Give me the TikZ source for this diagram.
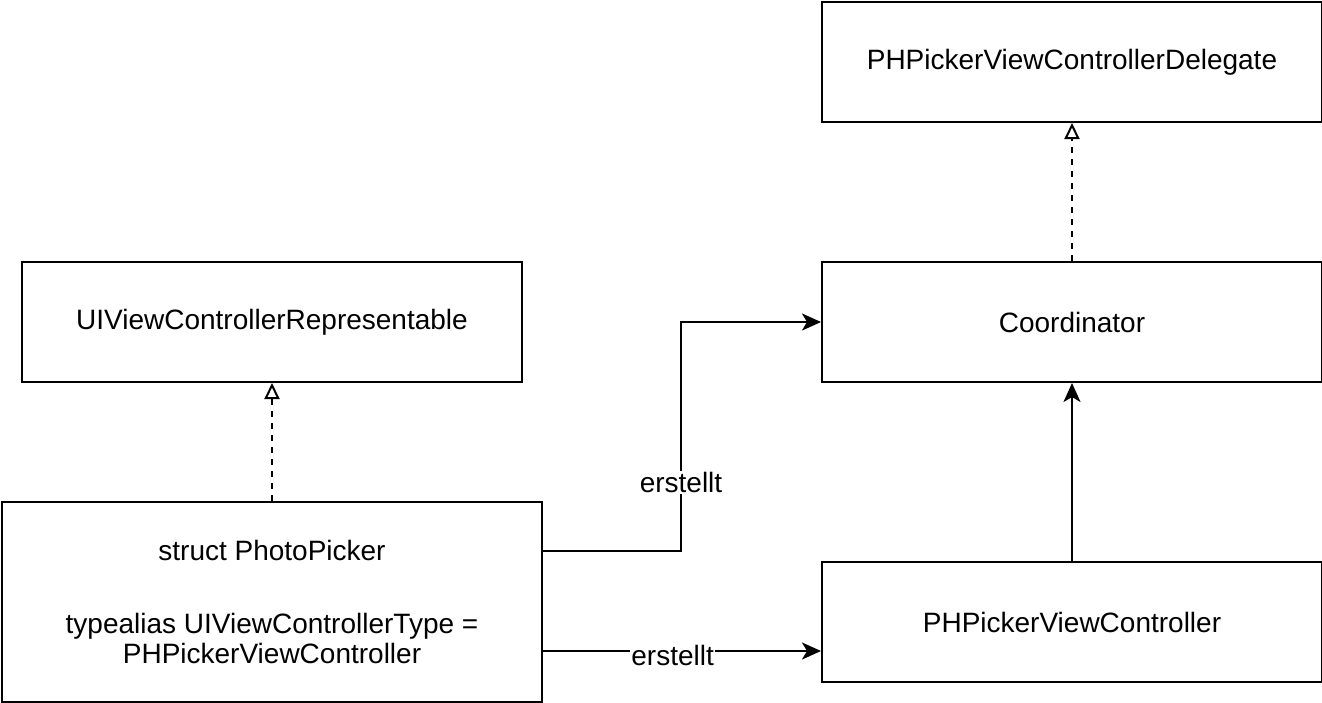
\documentclass[tikz,border=0pt]{standalone}
\usepackage{fontspec}
\setmainfont{Liberation Sans}
\usetikzlibrary{arrows.meta}
\begin{document}
\begin{tikzpicture}[x=1pt,y=-1pt,
  box/.style={draw,line width=2pt,minimum width=500pt,minimum height=120pt,inner sep=0pt,font=\fontsize{28}{29.5}\selectfont,align=center,anchor=north west},
  conn/.style={line width=2pt},
  real/.style={conn,dash pattern=on 6pt off 6pt,-{Triangle[open,length=16pt,width=15pt,line width=2pt]}},
  assoc/.style={conn,-{Stealth[length=19pt,width=17pt,inset=5pt]}},
  lbl/.style={fill=white,inner sep=1pt,font=\fontsize{28}{29.5}\selectfont}]
\useasboundingbox (0,0) rectangle (1322,702);
\node[box] (del) at (821,1) {PHPickerViewControllerDelegate};
\node[box] (uivcr) at (21,261) {UIViewControllerRepresentable};
\node[box] (coord) at (821,261) {Coordinator};
\node[box,minimum width=540pt,minimum height=200pt] (pp) at (1,501) {struct PhotoPicker\\[43.5pt]typealias UIViewControllerType =\\PHPickerViewController};
\node[box] (phvc) at (821,561) {PHPickerViewController};
\draw[real] (pp.north -| uivcr.south) -- (uivcr.south);
\draw[real] (coord.north) -- (del.south);
\coordinate (c1) at (681,551);
\draw[assoc] (pp.east |- c1) -- (c1) -- node[lbl,pos=0.3]{erstellt} (c1 |- coord.west) -- (coord.west);
\coordinate (c2) at (541,651);
\draw[assoc] (c2) -- node[lbl,pos=0.47,yshift=-4pt,inner ysep=0pt]{erstellt} (phvc.west |- c2);
\draw[assoc] (phvc.north) -- (coord.south);
\end{tikzpicture}
\end{document}
